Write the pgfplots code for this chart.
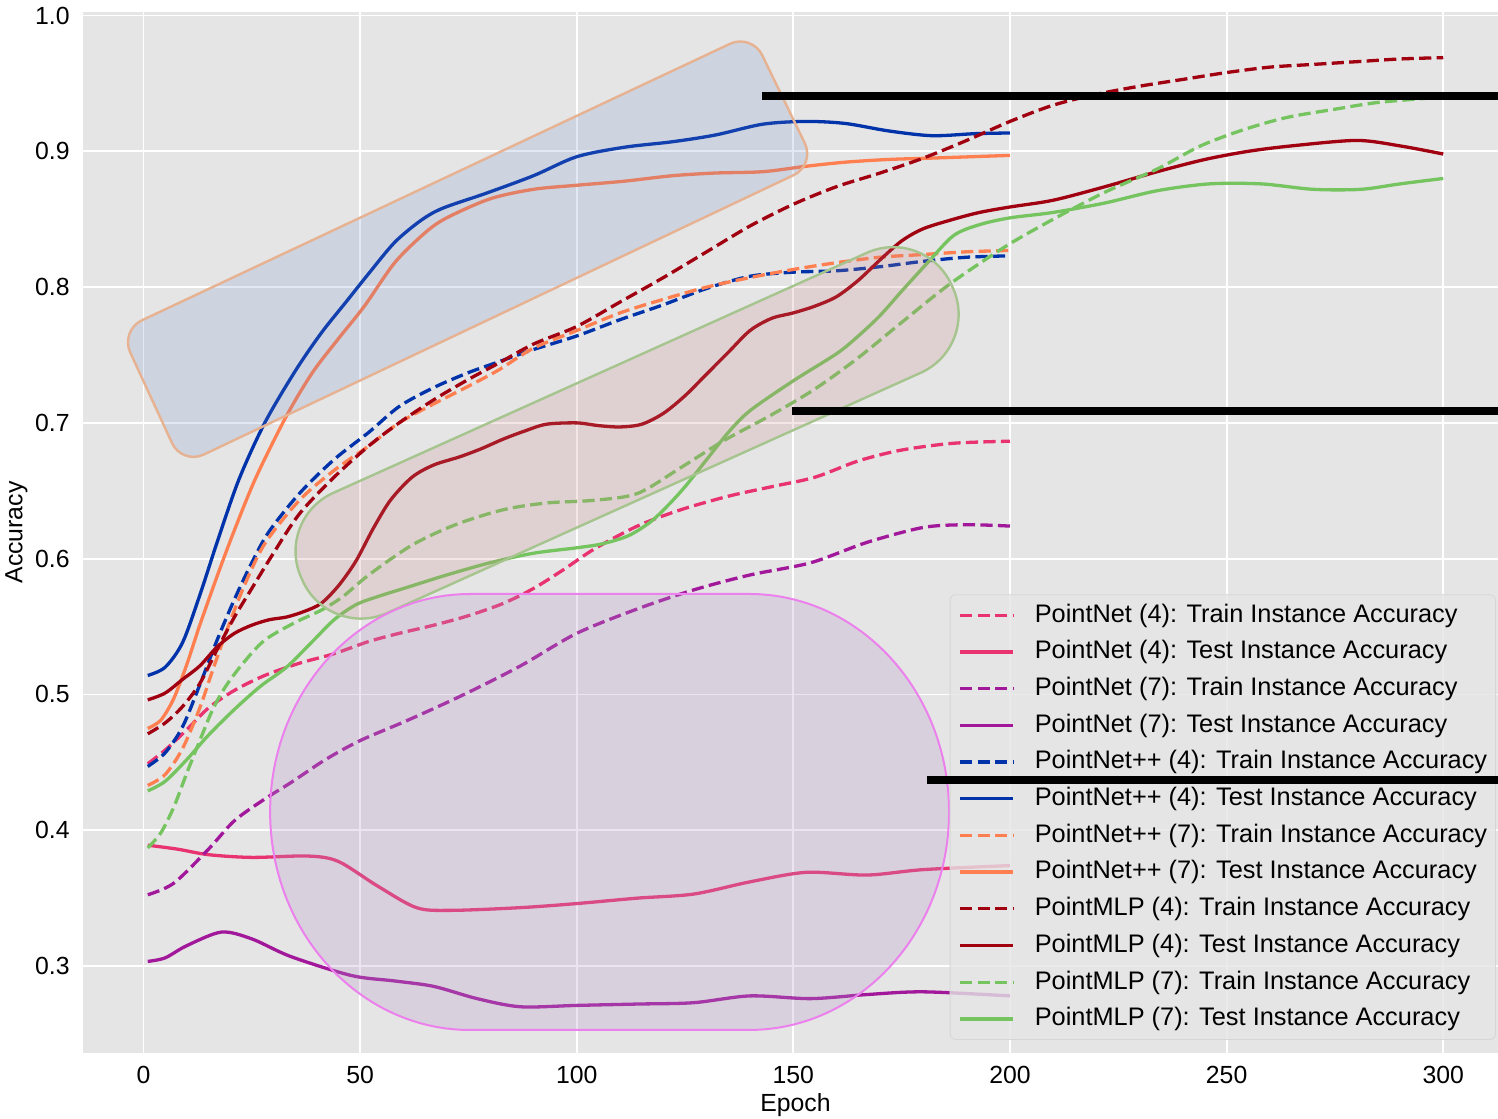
\documentclass[border=0pt]{standalone}
\usepackage{fontspec}
\setmainfont{Liberation Sans}
\usepackage{pgfplots}
\pgfplotsset{compat=1.18}
\definecolor{bg}{RGB}{229,229,229}
\definecolor{cpink}{RGB}{232,51,112}
\definecolor{cpurple}{RGB}{162,24,155}
\definecolor{cblue}{RGB}{0,51,170}
\definecolor{ccoral}{RGB}{255,127,80}
\definecolor{cdred}{RGB}{160,0,16}
\definecolor{cgreen}{RGB}{118,196,96}
\definecolor{s1fill}{RGB}{100,130,200}
\definecolor{s1edge}{RGB}{230,178,145}
\definecolor{s2fill}{RGB}{200,130,130}
\definecolor{s2edge}{RGB}{166,196,142}
\definecolor{s3fill}{RGB}{180,150,200}
\definecolor{s3edge}{RGB}{236,128,236}
\begin{document}
\begin{tikzpicture}
\begin{axis}[
  name=ax,
  scale only axis,
  width=712.55pt, height=520.5pt,
  xmin=-13.95, xmax=314.95, ymin=0.2360, ymax=1.0026,
  axis background/.style={fill=bg},
  axis line style={draw=none},
  major tick length=0pt,
  grid=major,
  grid style={white, line width=0.9pt},
  xtick={0,50,100,150,200,250,300},
  ytick={0.3,0.4,0.5,0.6,0.7,0.8,0.9,1.0},
  /pgf/number format/assume math mode=true,
  ticklabel style={font=\fontsize{12.4}{14}\selectfont},
  yticklabel style={/pgf/number format/fixed, /pgf/number format/fixed zerofill, /pgf/number format/precision=1, anchor=east, inner sep=0pt, xshift=-6.5pt},
  xticklabel style={anchor=base, inner sep=0pt, yshift=-15.5pt},
  xlabel={Epoch}, ylabel={Accuracy},
  label style={font=\fontsize{12.4}{14}\selectfont},
  xlabel style={at={(axis description cs:0.5,0)}, anchor=base, inner sep=0pt, yshift=-29.5pt},
  ylabel style={at={(axis description cs:0,0.5)}, anchor=center, inner sep=0pt, yshift=33.25pt},
  legend cell align=left,
  legend style={at={(1,0)}, anchor=south east, xshift=-6pt, yshift=6.5pt,
    fill=bg, fill opacity=0.8, text opacity=1, draw=black!16, rounded corners=3pt,
    inner xsep=4.2pt, inner ysep=4.3pt, row sep=6.35pt, column sep=10pt,
    font=\fontsize{12.68}{15}\selectfont,
    nodes={inner sep=0pt, text height=9.4pt, text depth=2.6pt}},
  legend image code/.code={\draw[#1] (0pt,0pt) -- (26.5pt,0pt);},
  every axis plot/.append style={line width=1.65pt, smooth},
  dashstyle/.style={dash pattern=on 6.1pt off 2.65pt},
]
% PointNet (4) train
\addplot[cpink, dashstyle] coordinates {(1,0.449)(5,0.459)(10,0.474)(15,0.490)(21,0.503)(28,0.514)(36,0.523)(44,0.530)(52,0.539)(59,0.545)(67,0.551)(75,0.558)(83,0.567)(90,0.578)(97,0.592)(104,0.607)(114,0.624)(124,0.636)(135,0.646)(145,0.653)(155,0.660)(165,0.672)(175,0.680)(187,0.685)(200,0.6865)};
\addlegendentry{PointNet (4): Train Instance Accuracy}
% PointNet (4) test
\addplot[cpink] coordinates {(1,0.389)(8,0.386)(15,0.382)(25,0.380)(38,0.381)(45,0.377)(54,0.359)(63,0.343)(71,0.341)(87,0.343)(100,0.346)(114,0.350)(127,0.353)(140,0.362)(153,0.369)(167,0.367)(180,0.371)(200,0.374)};
\addlegendentry{PointNet (4): Test Instance Accuracy}
% PointNet (7) train
\addplot[cpurple, dashstyle] coordinates {(1,0.3525)(7,0.361)(15,0.386)(21,0.407)(28,0.423)(34,0.435)(42,0.452)(50,0.466)(61,0.481)(74,0.500)(87,0.521)(100,0.545)(114,0.563)(127,0.577)(140,0.588)(154,0.597)(167,0.612)(180,0.623)(190,0.625)(200,0.624)};
\addlegendentry{PointNet (7): Train Instance Accuracy}
% PointNet (7) test
\addplot[cpurple] coordinates {(1,0.3034)(5,0.306)(10,0.315)(18,0.325)(25,0.320)(34,0.307)(48,0.293)(58,0.289)(67,0.285)(77,0.276)(87,0.270)(100,0.271)(114,0.272)(127,0.273)(140,0.278)(154,0.276)(167,0.279)(180,0.281)(200,0.278)};
\addlegendentry{PointNet (7): Test Instance Accuracy}
% PointNet++ (4) train
\addplot[cblue, dashstyle] coordinates {(1,0.447)(5,0.457)(9,0.476)(13,0.507)(17,0.540)(21,0.570)(25,0.597)(29,0.620)(36,0.648)(44,0.673)(52,0.693)(59,0.712)(67,0.726)(75,0.737)(82,0.745)(90,0.754)(100,0.764)(110,0.776)(120,0.787)(130,0.799)(140,0.808)(150,0.811)(160,0.812)(170,0.815)(180,0.819)(190,0.822)(200,0.823)};
\addlegendentry{PointNet++ (4): Train Instance Accuracy}
% PointNet++ (4) test
\addplot[cblue] coordinates {(1,0.514)(5,0.520)(9,0.538)(13,0.573)(17,0.612)(22,0.658)(28,0.700)(35,0.738)(41,0.766)(47,0.790)(52,0.810)(58,0.833)(64,0.849)(69,0.858)(79,0.869)(90,0.882)(100,0.896)(111,0.903)(122,0.907)(132,0.912)(143,0.920)(153,0.922)(162,0.9205)(172,0.915)(182,0.9115)(192,0.913)(200,0.9135)};
\addlegendentry{PointNet++ (4): Test Instance Accuracy}
% PointNet++ (7) train
\addplot[ccoral, dashstyle] coordinates {(1,0.433)(5,0.441)(9,0.460)(13,0.490)(16,0.518)(19,0.545)(23,0.578)(28,0.611)(36,0.643)(44,0.665)(52,0.683)(59,0.700)(67,0.714)(75,0.727)(82,0.739)(90,0.755)(100,0.768)(110,0.781)(120,0.791)(130,0.800)(140,0.807)(150,0.813)(160,0.818)(170,0.822)(180,0.824)(190,0.826)(200,0.827)};
\addlegendentry{PointNet++ (7): Train Instance Accuracy}
% PointNet++ (7) test
\addplot[ccoral] coordinates {(1,0.475)(4,0.481)(7,0.497)(10,0.522)(13,0.551)(17,0.587)(21,0.621)(26,0.660)(33,0.705)(39,0.737)(45,0.762)(51,0.786)(58,0.818)(65,0.840)(70,0.851)(80,0.865)(90,0.872)(100,0.875)(111,0.878)(122,0.882)(132,0.884)(143,0.885)(153,0.889)(162,0.892)(172,0.894)(182,0.895)(200,0.897)};
\addlegendentry{PointNet++ (7): Test Instance Accuracy}
% PointMLP (4) train
\addplot[cdred, dashstyle] coordinates {(1,0.471)(5,0.479)(9,0.491)(13,0.508)(17,0.533)(21,0.557)(25,0.578)(30,0.604)(36,0.633)(44,0.660)(52,0.683)(59,0.700)(67,0.717)(75,0.732)(82,0.744)(90,0.758)(100,0.771)(110,0.789)(120,0.807)(130,0.826)(140,0.845)(150,0.861)(160,0.874)(170,0.884)(180,0.895)(190,0.908)(200,0.922)(210,0.934)(220,0.942)(230,0.948)(240,0.953)(250,0.958)(260,0.962)(270,0.964)(280,0.966)(290,0.968)(300,0.969)};
\addlegendentry{PointMLP (4): Train Instance Accuracy}
% PointMLP (4) test
\addplot[cdred] coordinates {(1,0.496)(5,0.501)(9,0.511)(13,0.521)(17,0.535)(21,0.545)(25,0.551)(29,0.555)(33,0.557)(37,0.561)(41,0.567)(45,0.580)(49,0.598)(53,0.622)(57,0.643)(62,0.660)(67,0.669)(73,0.675)(78,0.681)(83,0.688)(88,0.694)(93,0.699)(100,0.700)(105,0.698)(110,0.697)(115,0.699)(120,0.707)(125,0.720)(130,0.736)(135,0.752)(140,0.768)(145,0.777)(150,0.781)(155,0.786)(160,0.793)(165,0.805)(170,0.820)(175,0.834)(180,0.843)(187,0.850)(193,0.855)(200,0.859)(210,0.864)(222,0.874)(234,0.885)(245,0.894)(255,0.900)(265,0.904)(280,0.908)(290,0.904)(300,0.898)};
\addlegendentry{PointMLP (4): Test Instance Accuracy}
% PointMLP (7) train
\addplot[cgreen, dashstyle] coordinates {(1,0.387)(4,0.398)(7,0.417)(10,0.442)(13,0.466)(16,0.489)(19,0.506)(23,0.523)(28,0.540)(35,0.553)(41,0.562)(46,0.572)(52,0.588)(62,0.610)(72,0.625)(83,0.636)(93,0.641)(104,0.643)(114,0.648)(124,0.667)(134,0.687)(145,0.706)(155,0.725)(165,0.748)(175,0.774)(186,0.802)(199,0.830)(210,0.850)(222,0.870)(234,0.887)(244,0.904)(254,0.916)(264,0.925)(275,0.931)(285,0.936)(300,0.940)};
\addlegendentry{PointMLP (7): Train Instance Accuracy}
% PointMLP (7) test
\addplot[cgreen] coordinates {(1,0.429)(5,0.436)(10,0.452)(15,0.470)(21,0.489)(27,0.506)(33,0.520)(39,0.539)(44,0.555)(49,0.566)(54,0.572)(61,0.579)(70,0.588)(80,0.597)(90,0.604)(100,0.608)(106,0.611)(112,0.617)(117,0.627)(121,0.639)(125,0.653)(130,0.673)(135,0.693)(140,0.709)(150,0.731)(160,0.751)(165,0.764)(170,0.779)(175,0.797)(181,0.818)(187,0.838)(193,0.846)(200,0.851)(210,0.855)(222,0.862)(234,0.871)(246,0.876)(258,0.876)(270,0.872)(281,0.872)(290,0.876)(300,0.880)};
\addlegendentry{PointMLP (7): Test Instance Accuracy}
% annotation shapes
\draw[rounded corners=12pt, fill=s1fill, fill opacity=0.18, draw=s1edge, line width=1.2pt]
  (axis cs:-5.38,0.768) -- (axis cs:140.4,0.9867) -- (axis cs:155.07,0.890) -- (axis cs:8.91,0.6691) -- cycle;
\draw[rounded corners=32pt, fill=s2fill, fill opacity=0.2, draw=s2edge, line width=1.2pt]
  (axis cs:30.35,0.6291) -- (axis cs:180.45,0.8446) -- (axis cs:192.91,0.7563) -- (axis cs:42.81,0.5407) -- cycle;
\draw[fill=s3fill, fill opacity=0.25, draw=s3edge, line width=1pt]
  (axis cs:75.4,0.574) -- (axis cs:139.78,0.574)
  arc[start angle=90, end angle=-90, x radius=100pt, y radius=109pt]
  -- (axis cs:75.4,0.2529)
  arc[start angle=270, end angle=90, x radius=100pt, y radius=109pt] -- cycle;
\coordinate (la) at (axis cs:142.79,0.9407);
\coordinate (lb) at (axis cs:314.95,0.9407);
\coordinate (lc) at (axis cs:149.7,0.7088);
\coordinate (ld) at (axis cs:314.95,0.7088);
\coordinate (le) at (axis cs:180.75,0.4370);
\coordinate (lf) at (axis cs:314.95,0.4370);
\end{axis}
\draw[line width=3.75pt] (la) -- (lb);
\draw[line width=3.75pt] (lc) -- (ld);
\draw[line width=3.75pt] (le) -- (lf);
\pgfresetboundingbox
\path[use as bounding box] ([xshift=-41.5pt,yshift=-33pt]ax.south west) rectangle ([xshift=-5pt,yshift=6pt]ax.north east);
\end{tikzpicture}
\end{document}
